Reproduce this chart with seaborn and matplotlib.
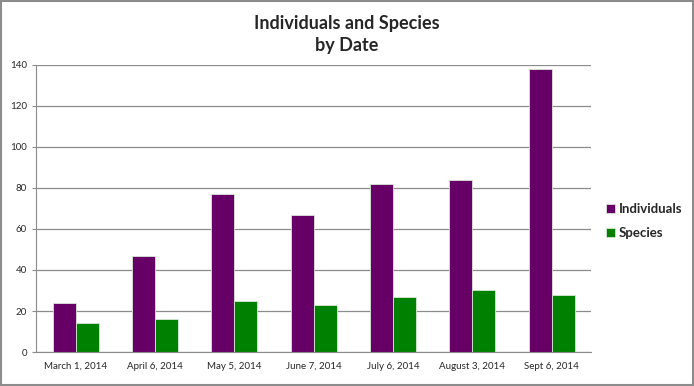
import pandas as pd
import numpy as np
import matplotlib.pyplot as plt
import seaborn as sns

dates = ["March 1, 2014", "April 6, 2014", "May 5, 2014", "June 7, 2014",
         "July 6, 2014", "August 3, 2014", "Sept 6, 2014"]
individuals = [24, 47, 77, 67, 82, 84, 138]
species = [14, 16, 25, 23, 27, 30, 28]

df = pd.DataFrame({"Date": dates * 2,
                   "Count": individuals + species,
                   "Series": ["Individuals"] * len(dates) + ["Species"] * len(dates)})

sns.set_style("white")
plt.rcParams['font.family'] = ['Lato', 'DejaVu Sans']

fig = plt.figure(figsize=(6.94, 3.86), dpi=100)
ax = fig.add_axes([0.052, 0.088, 0.8, 0.744])

sns.barplot(data=df, x="Date", y="Count", hue="Series", ax=ax,
            palette={"Individuals": "#660066", "Species": "#008000"},
            width=0.58, saturation=1, edgecolor="#d8e8d8", linewidth=0.6)

ax.set_ylim(0, 140)
ax.set_xlim(-0.5, len(dates) - 0.5)
ax.set_yticks(range(0, 141, 20))
ax.yaxis.grid(True, color="#8c8c8c", linewidth=0.9)
ax.set_axisbelow(True)
ax.set_xlabel("")
ax.set_ylabel("")
for s in ["top", "right"]:
    ax.spines[s].set_visible(False)
for s in ["left", "bottom"]:
    ax.spines[s].set_color("#8c8c8c")
ax.set_xticks(np.arange(-0.5, len(dates), 1.0), minor=True)
ax.tick_params(axis="x", which="major", length=0, labelsize=7, pad=7)
ax.tick_params(axis="x", which="minor", length=4, color="#8c8c8c", direction="out")
ax.tick_params(axis="y", length=3, color="#8c8c8c", labelsize=7, left=True, direction="out")

ax.legend(loc="center left", bbox_to_anchor=(1.005, 0.455), frameon=False,
          handlelength=0.7, handleheight=0.7, handletextpad=0.3,
          labelspacing=0.9, prop={"weight": "bold", "size": 9.5})

fig.suptitle("Individuals and Species\nby Date", y=0.962, fontsize=13,
             fontweight="bold", linespacing=1.4)

fig.patches.append(plt.Rectangle((0.001, 0.002), 0.997, 0.995, transform=fig.transFigure,
                                 fill=False, edgecolor="#8c8c8c", linewidth=1.5))

plt.savefig("out.png", dpi=100)
